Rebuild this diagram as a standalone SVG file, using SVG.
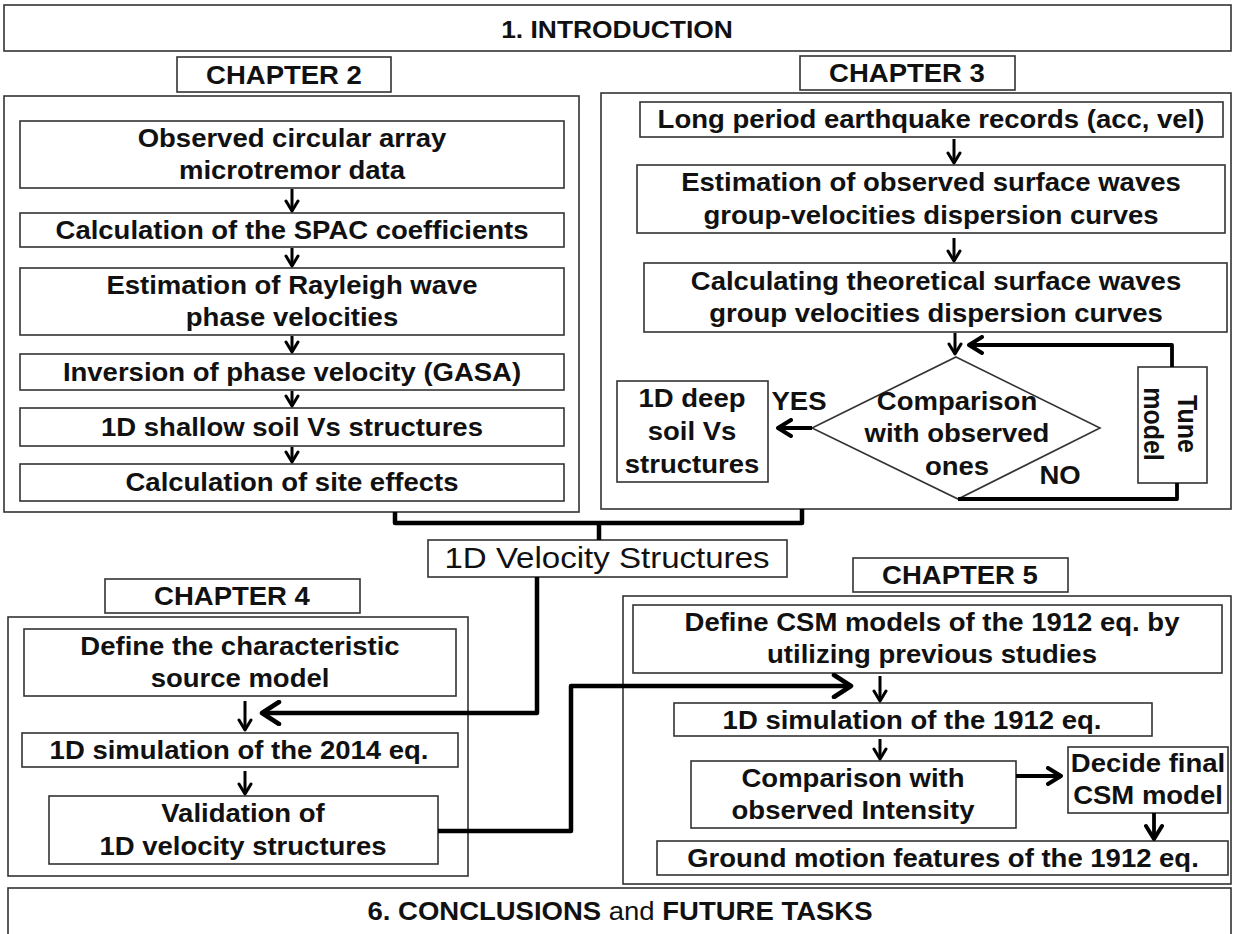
<svg xmlns="http://www.w3.org/2000/svg" width="1233" height="934" viewBox="0 0 1233 934">
<style>
.box{fill:#fff;stroke:#333;stroke-width:1.6}
.t{font-family:"Liberation Sans",Arial,sans-serif;font-size:25px;font-weight:bold;fill:#111;text-anchor:middle}
.r{font-weight:normal}
.c{fill:none;stroke:#000;stroke-width:4.5;stroke-linejoin:round}
.cs{fill:none;stroke:#000;stroke-width:3}
.cm{fill:none;stroke:#000;stroke-width:3.8;stroke-linejoin:round}
</style>
<defs>
<marker id="ahs" viewBox="0 0 16 16" refX="13" refY="8" markerWidth="16" markerHeight="16" markerUnits="userSpaceOnUse" orient="auto"><path d="M3,2 L13,8 L3,14" fill="none" stroke="#000" stroke-width="3" stroke-linecap="round" stroke-linejoin="round"/></marker>
<marker id="ahm" viewBox="0 0 20 20" refX="17" refY="10" markerWidth="20" markerHeight="20" markerUnits="userSpaceOnUse" orient="auto"><path d="M4,2 L17,10 L4,18" fill="none" stroke="#000" stroke-width="4" stroke-linecap="round" stroke-linejoin="round"/></marker>
<marker id="ahl" viewBox="0 0 26 26" refX="22" refY="13" markerWidth="26" markerHeight="26" markerUnits="userSpaceOnUse" orient="auto"><path d="M5,2 L22,13 L5,24" fill="none" stroke="#000" stroke-width="4.5" stroke-linecap="round" stroke-linejoin="round"/></marker>
</defs>
<rect width="1233" height="934" fill="#fff"/>

<g id="intro"><rect class="box" x="4" y="5" width="1227" height="46"/>
<text class="t" style="font-size:24px" transform="matrix(1.1 0 0 1 617 38)">1. INTRODUCTION</text></g>

<g id="ch2-label"><rect class="box" x="177" y="57" width="214" height="35"/>
<text class="t" transform="matrix(1.1 0 0 1 284 84)">CHAPTER 2</text></g>
<g id="ch2"><rect class="box" x="4" y="96" width="575" height="416"/></g>
<g id="ch2-observed"><rect class="box" x="20" y="121" width="544" height="67"/>
<text class="t" transform="matrix(1.1 0 0 1 292 0)"><tspan x="0" y="147">Observed circular array</tspan><tspan x="0" y="179">microtremor data</tspan></text></g>
<g id="ch2-spac"><rect class="box" x="20" y="213" width="544" height="34"/>
<text class="t" transform="matrix(1.1 0 0 1 292 239)">Calculation of the SPAC coefficients</text></g>
<g id="ch2-rayleigh"><rect class="box" x="20" y="268" width="544" height="67"/>
<text class="t" transform="matrix(1.1 0 0 1 292 0)"><tspan x="0" y="294">Estimation of Rayleigh wave</tspan><tspan x="0" y="326">phase velocities</tspan></text></g>
<g id="ch2-inversion"><rect class="box" x="20" y="354" width="544" height="36"/>
<text class="t" transform="matrix(1.1 0 0 1 292 381)">Inversion of phase velocity (GASA)</text></g>
<g id="ch2-shallow"><rect class="box" x="20" y="408" width="544" height="38"/>
<text class="t" transform="matrix(1.1 0 0 1 292 436)">1D shallow soil Vs structures</text></g>
<g id="ch2-site"><rect class="box" x="20" y="464" width="544" height="37"/>
<text class="t" transform="matrix(1.1 0 0 1 292 491)">Calculation of site effects</text></g>

<g id="ch3-label"><rect class="box" x="800" y="56" width="215" height="34"/>
<text class="t" transform="matrix(1.1 0 0 1 907 82)">CHAPTER 3</text></g>
<g id="ch3"><rect class="box" x="601" y="93" width="630" height="416"/></g>
<g id="ch3-records"><rect class="box" x="640" y="102" width="583" height="35"/>
<text class="t" transform="matrix(1.1 0 0 1 931 128)">Long period earthquake records (acc, vel)</text></g>
<g id="ch3-observed"><rect class="box" x="637" y="165" width="588" height="68"/>
<text class="t" transform="matrix(1.1 0 0 1 931 0)"><tspan x="0" y="191">Estimation of observed surface waves</tspan><tspan x="0" y="224">group-velocities dispersion curves</tspan></text></g>
<g id="ch3-theoretical"><rect class="box" x="644" y="263" width="583" height="69"/>
<text class="t" transform="matrix(1.1 0 0 1 936 0)"><tspan x="0" y="290">Calculating theoretical surface waves</tspan><tspan x="0" y="322">group velocities dispersion curves</tspan></text></g>
<g id="ch3-compare"><path class="box" d="M956,357 L1100,428 L958,499 L812,428 Z"/>
<text class="t" transform="matrix(1.1 0 0 1 957 0)"><tspan x="0" y="410">Comparison</tspan><tspan x="0" y="442">with observed</tspan><tspan x="0" y="475">ones</tspan></text></g>
<g id="ch3-deep"><rect class="box" x="617" y="381" width="151" height="101"/>
<text class="t" transform="matrix(1.1 0 0 1 692 0)"><tspan x="0" y="407">1D deep</tspan><tspan x="0" y="440">soil Vs</tspan><tspan x="0" y="473">structures</tspan></text></g>
<g id="ch3-tune"><rect class="box" x="1138" y="367" width="69" height="116"/>
<text class="t" transform="matrix(0 1 -1.1 0 1178 424)"><tspan x="0" y="0">Tune</tspan><tspan x="0" y="31">model</tspan></text></g>
<g id="ch3-yes"><text class="t" transform="matrix(1.1 0 0 1 799 410)">YES</text></g>
<g id="ch3-no"><text class="t" transform="matrix(1.1 0 0 1 1060 484)">NO</text></g>

<g id="velocity"><rect class="box" x="428" y="540" width="359" height="37"/>
<text class="t r" style="font-size:29px" transform="matrix(1.14 0 0 1 607 568)">1D Velocity Structures</text></g>

<g id="ch4-label"><rect class="box" x="105" y="579" width="255" height="34"/>
<text class="t" transform="matrix(1.1 0 0 1 232 605)">CHAPTER 4</text></g>
<g id="ch4"><rect class="box" x="8" y="617" width="460" height="259"/></g>
<g id="ch4-source"><rect class="box" x="24" y="629" width="432" height="67"/>
<text class="t" transform="matrix(1.1 0 0 1 240 0)"><tspan x="0" y="655">Define the characteristic</tspan><tspan x="0" y="687">source model</tspan></text></g>
<g id="ch4-sim"><rect class="box" x="22" y="733" width="436" height="34"/>
<text class="t" transform="matrix(1.1 0 0 1 239 759)">1D simulation of the 2014 eq.</text></g>
<g id="ch4-validation"><rect class="box" x="49" y="796" width="389" height="68"/>
<text class="t" transform="matrix(1.1 0 0 1 243 0)"><tspan x="0" y="822">Validation of</tspan><tspan x="0" y="855">1D velocity structures</tspan></text></g>

<g id="ch5-label"><rect class="box" x="853" y="558" width="215" height="34"/>
<text class="t" transform="matrix(1.1 0 0 1 960 584)">CHAPTER 5</text></g>
<g id="ch5"><rect class="box" x="623" y="596" width="608" height="288"/></g>
<g id="ch5-csm"><rect class="box" x="633" y="605" width="589" height="68"/>
<text class="t" transform="matrix(1.1 0 0 1 932 0)"><tspan x="0" y="631">Define CSM models of the 1912 eq. by</tspan><tspan x="0" y="663">utilizing previous studies</tspan></text></g>
<g id="ch5-sim"><rect class="box" x="674" y="703" width="478" height="33"/>
<text class="t" transform="matrix(1.1 0 0 1 912 729)">1D simulation of the 1912 eq.</text></g>
<g id="ch5-compare"><rect class="box" x="691" y="761" width="325" height="67"/>
<text class="t" transform="matrix(1.1 0 0 1 853 0)"><tspan x="0" y="787">Comparison with</tspan><tspan x="0" y="819">observed Intensity</tspan></text></g>
<g id="ch5-decide"><rect class="box" x="1068" y="747" width="160" height="66"/>
<text class="t" transform="matrix(1.1 0 0 1 1148 0)"><tspan x="0" y="772">Decide final</tspan><tspan x="0" y="804">CSM model</tspan></text></g>
<g id="ch5-ground"><rect class="box" x="657" y="841" width="571" height="34"/>
<text class="t" transform="matrix(1.1 0 0 1 943 867)">Ground motion features of the 1912 eq.</text></g>

<g id="conclusions"><rect class="box" x="8" y="888" width="1223" height="60"/>
<text class="t" transform="matrix(1.1 0 0 1 620 920)">6. CONCLUSIONS <tspan class="r">and</tspan> FUTURE TASKS</text></g>

<g id="connectors">
<path class="cs" d="M292,189 V211" marker-end="url(#ahs)"/>
<path class="cs" d="M292,248 V266" marker-end="url(#ahs)"/>
<path class="cs" d="M292,336 V352" marker-end="url(#ahs)"/>
<path class="cs" d="M292,391 V406" marker-end="url(#ahs)"/>
<path class="cs" d="M292,447 V462" marker-end="url(#ahs)"/>
<path class="cs" d="M954,139 V163" marker-end="url(#ahs)"/>
<path class="cs" d="M954,238 V261" marker-end="url(#ahs)"/>
<path class="cs" d="M955,333 V354" marker-end="url(#ahs)"/>
<path class="cm" d="M1172,367 V345 H969" marker-end="url(#ahm)"/>
<path class="cm" d="M958,499 H1177 V483"/>
<path class="cm" d="M812,428 H778" marker-end="url(#ahm)"/>
<path class="c" d="M395,512 V523 H802 V509"/>
<path class="c" d="M599,523 V540"/>
<path class="c" d="M537,577 V713 H262" marker-end="url(#ahl)"/>
<path class="cs" d="M245,701 V730" marker-end="url(#ahs)"/>
<path class="cs" d="M245,771 V794" marker-end="url(#ahs)"/>
<path class="c" d="M438,831 H571 V686 H851" marker-end="url(#ahl)"/>
<path class="cs" d="M880,676 V701" marker-end="url(#ahs)"/>
<path class="cs" d="M880,739 V759" marker-end="url(#ahs)"/>
<path class="cm" d="M1016,776 H1061" marker-end="url(#ahm)"/>
<path class="cm" d="M1154,813 V839" marker-end="url(#ahm)"/>
</g>
</svg>
